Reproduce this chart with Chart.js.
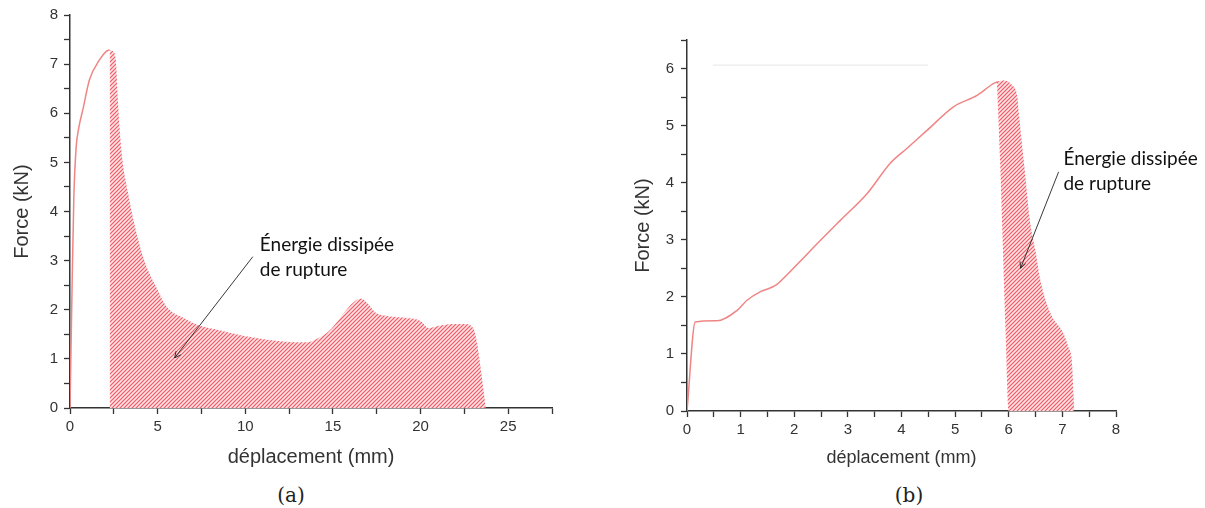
<!DOCTYPE html>
<html lang="fr">
<head>
<meta charset="utf-8">
<script src="https://cdn.jsdelivr.net/npm/chart.js@4.4.1/dist/chart.umd.min.js"></script>
<style>
  body { margin: 0; background: #fff; width: 1205px; height: 508px; overflow: hidden; position: relative; }
  canvas { position: absolute; top: 0; }
  #chartA { left: 0; }
  #chartB { left: 600px; }
  .legende { position: absolute; top: 483px; line-height: 24px; font: 20px "DejaVu Serif", serif; color: #222; transform: translateX(-50%); }
</style>
</head>
<body>
<canvas id="chartA" width="590" height="480"></canvas>
<canvas id="chartB" width="605" height="480"></canvas>
<div class="legende" style="left:291px">(a)</div>
<div class="legende" style="left:909px">(b)</div>

<script>
// (a) courbe force / déplacement
const courbeA_x = [0, 0.12, 0.22, 0.35, 0.5, 0.75, 1.11, 1.69, 2.07, 2.26];
const courbeA_y = [0, 2.5, 4.3, 5.3, 5.7, 6.1, 6.68, 7.09, 7.26, 7.29];
// (a) zone hachurée : énergie dissipée de rupture
const ruptureA_x = [2.26, 2.54, 2.64, 2.73, 2.93, 3.3, 3.7, 4.29, 4.91, 5.52, 6.54, 7.36, 8.59, 10.2, 12.3, 13.5, 14.1, 14.9, 15.5, 16.2, 16.6, 17.0, 17.4, 18.0, 19.0, 20.0, 20.45, 21.1, 21.9, 22.5, 23.0, 23.2, 23.4, 23.6, 23.72];
const ruptureA_y = [7.29, 7.22, 6.95, 6.27, 5.25, 4.4, 3.7, 2.95, 2.47, 2.06, 1.82, 1.68, 1.58, 1.45, 1.35, 1.34, 1.41, 1.61, 1.88, 2.16, 2.23, 2.12, 1.95, 1.88, 1.84, 1.77, 1.63, 1.68, 1.71, 1.71, 1.63, 1.37, 0.89, 0.34, 0];

// (b) courbe force / déplacement
const courbeB_x = [0, 0.155, 0.56, 0.93, 1.12, 1.37, 1.65, 1.93, 2.49, 2.86, 3.36, 3.79, 4.1, 4.48, 4.97, 5.41, 5.72, 5.8];
const courbeB_y = [0, 1.56, 1.58, 1.76, 1.94, 2.09, 2.2, 2.45, 2.99, 3.34, 3.81, 4.34, 4.6, 4.92, 5.33, 5.53, 5.74, 5.77];
// (b) zone hachurée : bord supérieur/droit et bord gauche
const ruptureB_haut_x = [5.78, 5.9, 6.06, 6.16, 6.19, 6.22, 6.3, 6.4, 6.5, 6.59, 6.78, 7.02, 7.11, 7.18, 7.21, 7.22];
const ruptureB_haut_y = [5.77, 5.79, 5.71, 5.5, 5.2, 4.92, 4.2, 3.3, 2.8, 2.29, 1.71, 1.36, 1.12, 0.83, 0.24, 0];
const ruptureB_bas_x = [5.78, 5.84, 5.88, 5.94, 6.0, 7.22];
const ruptureB_bas_y = [5.77, 4.34, 3.17, 1.41, 0, 0];
// trait gris pâle en haut du graphe (b)
const traitGris_x = [0.48, 4.5];
const traitGris_y = [6.06, 6.06];

const pts = (xs, ys) => xs.map((x, i) => ({ x: x, y: ys[i] }));

const ROUGE = '#f08585';
const AXE = '#333';
const POLICE = '"Liberation Sans", Arial, sans-serif';

function hachures(ctx) {
    const c = document.createElement('canvas');
    c.width = 4; c.height = 4;
    const g = c.getContext('2d');
    g.fillStyle = '#ffe4e6';
    g.fillRect(0, 0, 4, 4);
    g.strokeStyle = '#f25a66';
    g.lineWidth = 1.2;
    g.beginPath();
    g.moveTo(-1, 1); g.lineTo(1, -1);
    g.moveTo(0, 4); g.lineTo(4, 0);
    g.moveTo(3, 5); g.lineTo(5, 3);
    g.stroke();
    return ctx.createPattern(c, 'repeat');
}

// texte "Énergie dissipée" + flèche, placés en coordonnées des axes
const annotations = {
    chartA: { x: 10.83, y: 3.32, de: [10.43, 3.08], vers: [5.97, 1.02] },
    chartB: { x: 7.02, y: 4.41, de: [6.93, 4.19], vers: [6.22, 2.50] }
};
const texteAnnotation = ['Énergie dissipée', 'de rupture'];

const pluginAnnotation = {
    id: 'annotation',
    afterDatasetsDraw(chart) {
        const a = annotations[chart.canvas.id];
        const ctx = chart.ctx, sx = chart.scales.x, sy = chart.scales.y;
        ctx.save();
        ctx.fillStyle = '#111';
        ctx.font = '19px Lato, "Open Sans", sans-serif';
        ctx.textBaseline = 'middle';
        texteAnnotation.forEach((t, i) => {
            ctx.fillText(t, sx.getPixelForValue(a.x), sy.getPixelForValue(a.y) + i * 25);
        });
        const x0 = sx.getPixelForValue(a.de[0]), y0 = sy.getPixelForValue(a.de[1]);
        const x1 = sx.getPixelForValue(a.vers[0]), y1 = sy.getPixelForValue(a.vers[1]);
        ctx.strokeStyle = '#222';
        ctx.lineWidth = 0.9;
        ctx.beginPath();
        ctx.moveTo(x0, y0);
        ctx.lineTo(x1, y1);
        const ang = Math.atan2(y1 - y0, x1 - x0);
        for (const d of [-0.45, 0.45]) {
            ctx.moveTo(x1, y1);
            ctx.lineTo(x1 - 7 * Math.cos(ang + d), y1 - 7 * Math.sin(ang + d));
        }
        ctx.stroke();
        ctx.restore();
    }
};

function axes(o) {
    const grille = { drawOnChartArea: false, drawTicks: true, tickLength: 6, color: AXE, tickWidth: 1.3 };
    return {
        x: {
            type: 'linear', min: 0, max: o.xMax,
            afterFit: s => { s.height = o.xHaut; },
            border: { color: AXE, width: 1.5 },
            grid: grille,
            ticks: {
                stepSize: o.xPas, color: AXE, padding: 4, maxRotation: 0, autoSkip: false,
                font: { family: POLICE, size: o.tickTaille },
                callback: v => (v % o.xLabel === 0 ? v : '')
            },
            title: { display: true, text: 'déplacement (mm)', color: AXE, padding: { top: 0, bottom: o.xTitrePad }, font: { family: POLICE, size: o.xTitreTaille } }
        },
        y: {
            min: 0, max: o.yMax,
            afterFit: s => { s.width = o.yLarg; },
            border: { color: AXE, width: 1.5 },
            grid: grille,
            ticks: {
                stepSize: 0.5, color: AXE, padding: o.yTickPad, autoSkip: false,
                font: { family: POLICE, size: o.tickTaille },
                callback: v => (Number.isInteger(v) ? v : '')
            },
            title: { display: true, text: 'Force (kN)', color: AXE, padding: { top: o.yTitrePad, bottom: 0 }, font: { family: POLICE, size: o.yTitreTaille } }
        }
    };
}

const base = {
    animation: false,
    responsive: false,
    devicePixelRatio: 1,
    plugins: { legend: { display: false }, tooltip: { enabled: false } },
    elements: { point: { radius: 0 }, line: { cubicInterpolationMode: 'monotone' } }
};

const ctxA = document.getElementById('chartA').getContext('2d');
new Chart(ctxA, {
    type: 'scatter',
    data: {
        datasets: [
            { data: pts(ruptureA_x, ruptureA_y), showLine: true, borderWidth: 0, borderColor: 'rgba(0,0,0,0)', backgroundColor: hachures(ctxA), fill: 'origin' },
            { data: pts(courbeA_x, courbeA_y), showLine: true, borderWidth: 1.5, borderColor: ROUGE, fill: false }
        ]
    },
    options: Object.assign({}, base, {
        layout: { padding: { left: 0, top: 15, right: 38, bottom: 0 } },
        scales: axes({ xMax: 27.5, xPas: 2.5, xLabel: 5, xHaut: 72, yMax: 8, yLarg: 70, tickTaille: 15, yTickPad: 6, xTitreTaille: 20, xTitrePad: 11, yTitreTaille: 20, yTitrePad: 10 })
    }),
    plugins: [pluginAnnotation]
});

const ctxB = document.getElementById('chartB').getContext('2d');
new Chart(ctxB, {
    type: 'scatter',
    data: {
        datasets: [
            { data: pts(ruptureB_haut_x, ruptureB_haut_y), showLine: true, borderWidth: 0, borderColor: 'rgba(0,0,0,0)', backgroundColor: hachures(ctxB), fill: '+1' },
            { data: pts(ruptureB_bas_x, ruptureB_bas_y), showLine: true, borderWidth: 0, borderColor: 'rgba(0,0,0,0)', fill: false },
            { data: pts(courbeB_x, courbeB_y), showLine: true, borderWidth: 1.5, borderColor: ROUGE, fill: false },
            { data: pts(traitGris_x, traitGris_y), showLine: true, borderWidth: 1, borderColor: '#e6e6e6', fill: false }
        ]
    },
    options: Object.assign({}, base, {
        layout: { padding: { left: 0, top: 40, right: 89, bottom: 0 } },
        scales: axes({ xMax: 8, xPas: 0.5, xLabel: 1, xHaut: 69, yMax: 6.5, yLarg: 87, tickTaille: 15, yTickPad: 7, xTitreTaille: 18, xTitrePad: 11, yTitreTaille: 20, yTitrePad: 31 })
    }),
    plugins: [pluginAnnotation]
});
</script>
</body>
</html>
